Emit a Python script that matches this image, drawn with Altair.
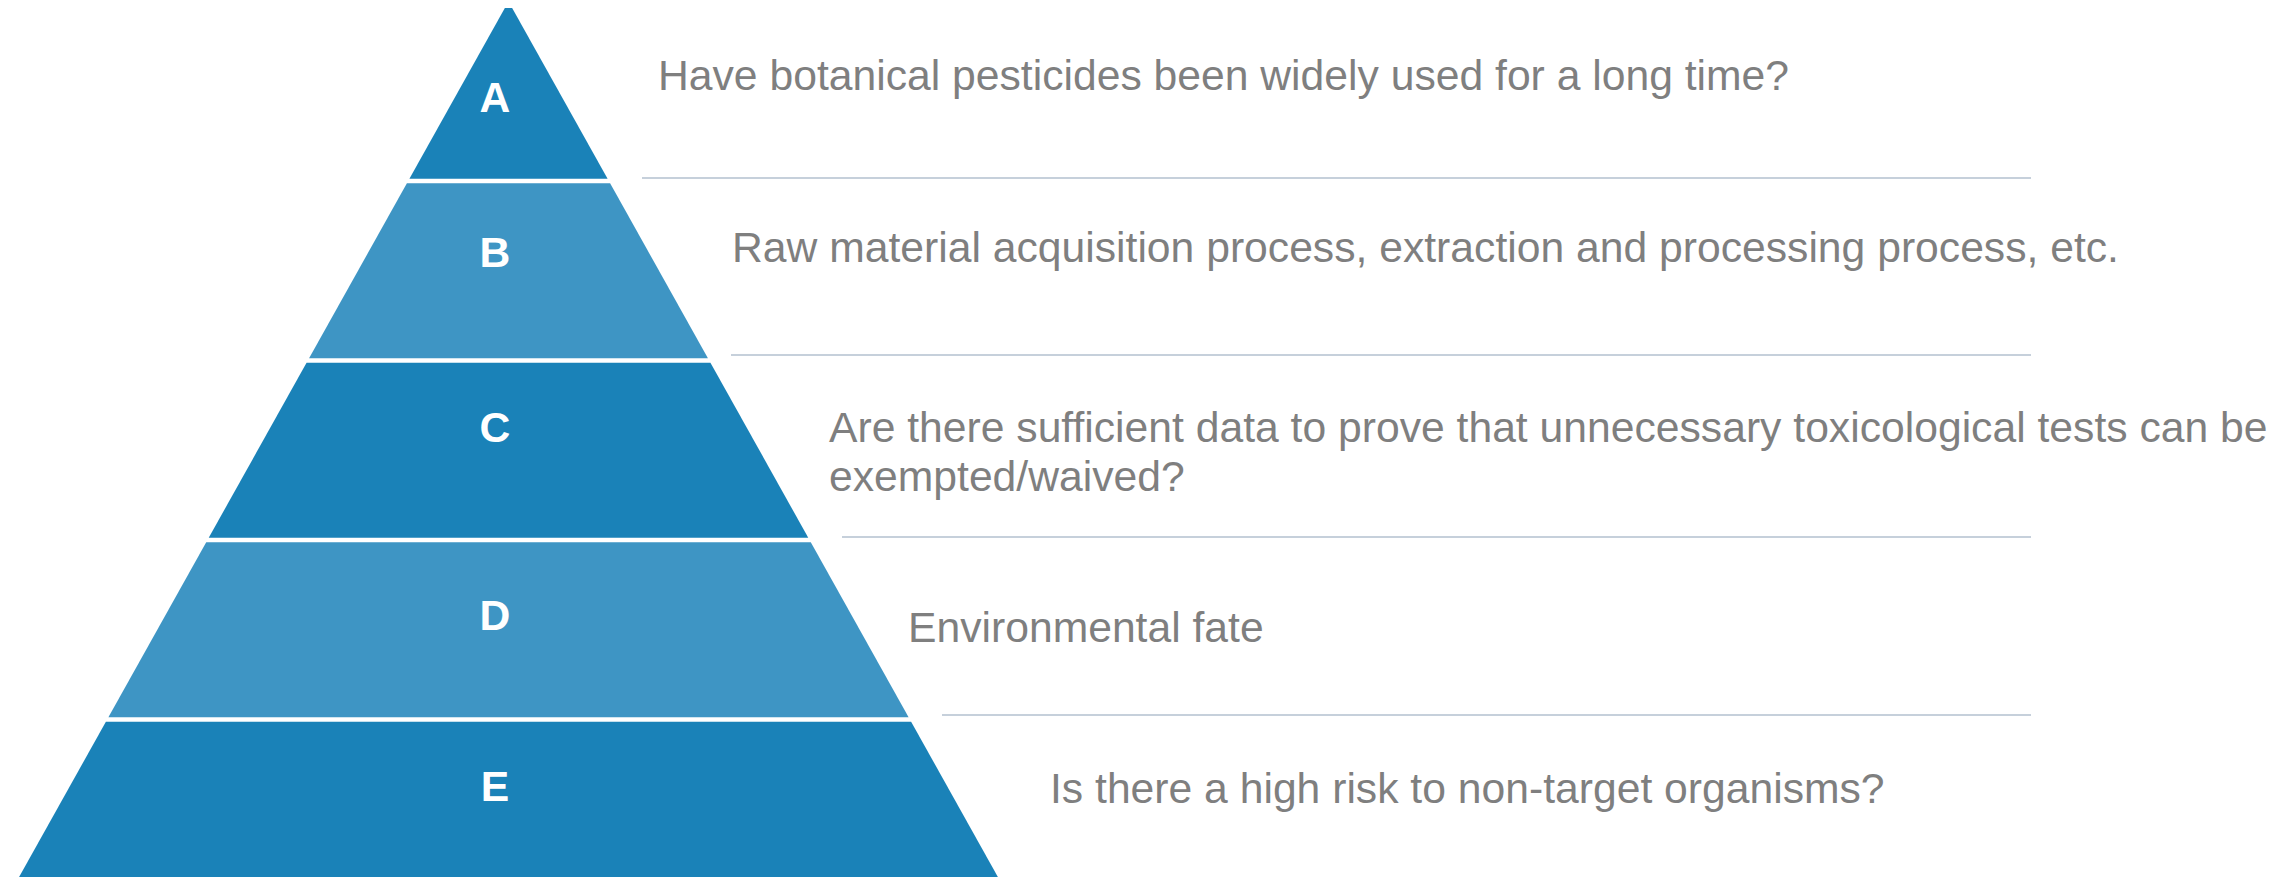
import altair as alt
import pandas as pd

# ---------------- content ----------------
levels = ["A", "B", "C", "D", "E"]
descriptions = [
    "Have botanical pesticides been widely used for a long time?",
    "Raw material acquisition process, extraction and processing process, etc.",
    "Are there sufficient data to prove that unnecessary toxicological tests can be\nexempted/waived?",
    "Environmental fate",
    "Is there a high risk to non-target organisms?",
]
shades = ["dark", "light", "dark", "light", "dark"]

# ---------------- layout (reference pixel frame) ----------------
PAGE_W, PAGE_H, MARGIN = 2293, 885, 8
APEX_X, APEX_Y = 508.5, 1.5
LEVEL_H, GAP, SLOPE = 179.5, 4.5, 0.559
LETTER_X = 495
letter_base_y = [112, 267, 442, 630, 801]
desc_x = [658, 732, 829, 908, 1050]
desc_base_y = [90, 262, 442, 642, 803]
sep_y = [178, 355, 537, 715]
sep_x0 = [642, 731, 842, 942]
SEP_X1 = 2031

palette = {"dark": "#1a82b8", "light": "#3e95c4"}
TEXT_GREY = "#7f7f7f"
SEP_COLOR = "#c6d0db"
FONT = "Liberation Sans"
FONT_SIZE = 42.67

# ---------------- tables ----------------
# each level is a trapezoid drawn as a vertical area: along x, the upper edge
# (y) rises along the left slope, runs flat, then falls along the right slope;
# the lower edge (y2) stays at the level's bottom.
rows = []
for i, (lvl, sh) in enumerate(zip(levels, shades)):
    top = APEX_Y + i * LEVEL_H + (GAP / 2 if i > 0 else 0)
    bot = APEX_Y + (i + 1) * LEVEL_H - GAP / 2
    ht = SLOPE * (top - APEX_Y)
    hb = SLOPE * (bot - APEX_Y)
    pts = [(APEX_X - hb, bot), (APEX_X - ht, top), (APEX_X + ht + 0.01, top), (APEX_X + hb, bot)]
    for px, py in pts:
        rows.append({"level": lvl, "x": px, "ytop": py, "ybot": bot})
pyr = pd.DataFrame(rows)

letters = pd.DataFrame({"level": levels, "x": [LETTER_X] * len(levels), "y": letter_base_y})
texts = pd.DataFrame({"desc": descriptions, "x": desc_x, "y": desc_base_y})
seps = pd.DataFrame({"y": sep_y, "x0": sep_x0, "x1": [SEP_X1] * len(sep_y)})

W = PAGE_W - 2 * MARGIN
H = PAGE_H - 2 * MARGIN
xs = alt.Scale(domain=[MARGIN, PAGE_W - MARGIN], nice=False, zero=False)
ys = alt.Scale(domain=[MARGIN, PAGE_H - MARGIN], nice=False, zero=False, reverse=True)

areas = []
for lvl, sh in zip(levels, shades):
    areas.append(
        alt.Chart(pyr[pyr["level"] == lvl]).mark_area(
            clip=True, color=palette[sh], opacity=1
        ).encode(
            x=alt.X("x:Q", scale=xs, axis=None),
            y=alt.Y("ytop:Q", scale=ys, axis=None),
            y2="ybot",
        )
    )

rules = alt.Chart(seps).mark_rule(color=SEP_COLOR, strokeWidth=2, clip=True).encode(
    y=alt.Y("y:Q", scale=ys, axis=None),
    x=alt.X("x0:Q", scale=xs, axis=None),
    x2="x1",
)

letter_marks = alt.Chart(letters).mark_text(
    font=FONT, fontSize=FONT_SIZE, fontWeight="bold", color="white",
    align="center", baseline="alphabetic",
).encode(
    x=alt.X("x:Q", scale=xs, axis=None),
    y=alt.Y("y:Q", scale=ys, axis=None),
    text="level:N",
)

desc_marks = alt.Chart(texts).mark_text(
    font=FONT, fontSize=FONT_SIZE, color=TEXT_GREY,
    align="left", baseline="alphabetic", lineBreak="\n", lineHeight=49,
).encode(
    x=alt.X("x:Q", scale=xs, axis=None),
    y=alt.Y("y:Q", scale=ys, axis=None),
    text="desc:N",
)

chart = alt.layer(*areas, rules, letter_marks, desc_marks).properties(
    width=W, height=H, padding=0, background="white",
    autosize=alt.AutoSizeParams(type="none"),
).configure_view(strokeWidth=0)

chart.save("out.html", embed_options={"renderer": "svg", "actions": False})
